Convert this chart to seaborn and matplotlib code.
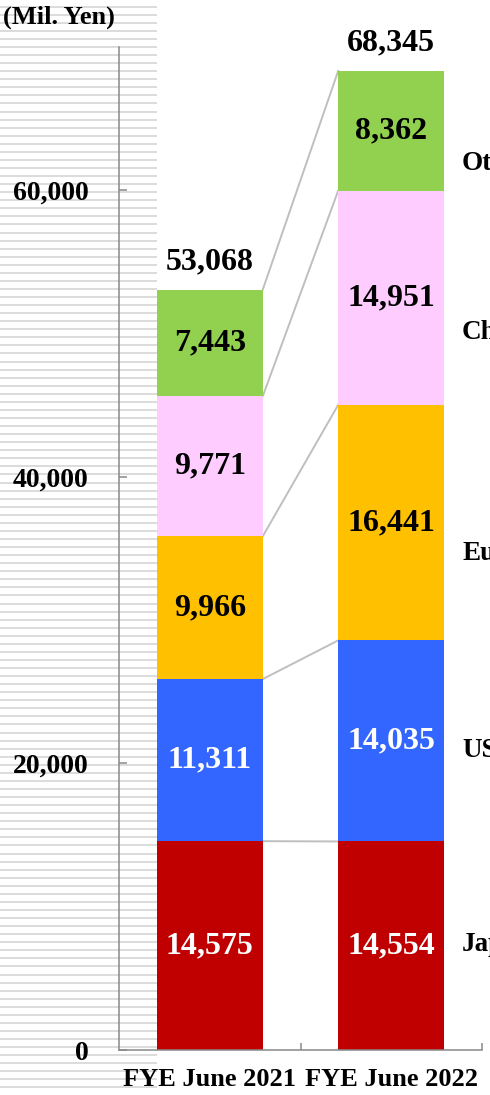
import numpy as np
import pandas as pd
import matplotlib
matplotlib.use("Agg")
import matplotlib.pyplot as plt
import seaborn as sns

# ---- data ----
periods = ["FYE June 2021", "FYE June 2022"]
regions = ["Japan", "USA", "Europe", "China", "Others"]
fy2021 = [14575, 11311, 9966, 9771, 7443]
fy2022 = [14554, 14035, 16441, 14951, 8362]
totals = [53068, 68345]
region_labels = ["Japan", "USA", "Europe", "China", "Others"]
region_label_y = [7330, 20935, 34680, 50100, 61900]
yticks = [0, 20000, 40000, 60000]
unit_label = "(Mil. Yen)"

colors = ["#C00000", "#3366FF", "#FFC000", "#FFCCFF", "#92D050"]
text_colors = ["white", "white", "black", "black", "black"]

sns.set_theme(style="white")
plt.rcParams["font.family"] = ["Liberation Serif", "DejaVu Serif"]
plt.rcParams["font.weight"] = "bold"
plt.rcParams["text.color"] = "black"
plt.rcParams["xtick.labelcolor"] = "black"
plt.rcParams["ytick.labelcolor"] = "black"

W, H = 490, 1095
fig = plt.figure(figsize=(W / 100, H / 100), dpi=100, facecolor="white")

# background stripes (decoration at left)
bg = fig.add_axes([0, 0, 157 / W, 1], zorder=-5)
bg.set_xlim(0, 1)
bg.set_ylim(H, 0)
bg.axis("off")
for yy in np.arange(6.7, H, 8.065):
    bg.axhline(yy, color="#D9D9D9", lw=1.3)

ax = fig.add_axes([119 / W, 45 / H, (482 - 119) / W, (1050 - 47) / H])
ax.patch.set_alpha(0)

df = pd.DataFrame({
    "period": np.repeat(periods, len(regions)),
    "region": regions * 2,
    "value": fy2021 + fy2022,
})
df["cum"] = df.groupby("period")["value"].cumsum()

bw = 0.584
for i in range(len(regions) - 1, -1, -1):
    sub = df[df["region"] == regions[i]]
    sns.barplot(data=sub, x="period", y="cum", order=periods, color=colors[i],
                saturation=1, width=bw, ax=ax, linewidth=0, zorder=2)

# connectors
cum1 = np.cumsum(fy2021)
cum2 = np.cumsum(fy2022)
for a, b in zip(cum1, cum2):
    ax.plot([0 + bw / 2, 1 - bw / 2], [a, b], color="#BFBFBF", lw=1.4, zorder=1)

# value labels
for xi, vals in enumerate([fy2021, fy2022]):
    c = np.cumsum(vals)
    for i, v in enumerate(vals):
        ax.text(xi, c[i] - v / 2, f"{v:,}", ha="center", va="center",
                fontsize=23, fontweight="bold", color=text_colors[i], zorder=5)
    ax.text(xi, c[-1] + 950, f"{totals[xi]:,}", ha="center", va="bottom",
            fontsize=23, fontweight="bold", color="black", zorder=5)

# right-side region labels (cut off at figure edge, as in reference)
for lab, yy in zip(region_labels, region_label_y):
    ax.text(1.39, yy, lab, ha="left", va="center", fontsize=19.5,
            fontweight="bold", color="black", clip_on=False)

ax.set_xlim(-0.5, 1.5)
ax.set_ylim(0, 70000)
ax.set_yticks(yticks)
ax.set_yticklabels([f"{t:,}" for t in yticks], fontsize=20, fontweight="bold", color="black")
ax.set_xticks([0, 1])
ax.set_xticklabels(periods, fontsize=19, fontweight="bold", color="black")
ax.set_xticks([0.5, 1.5], minor=True)
ax.tick_params(axis="x", which="major", length=0, pad=13)
ax.tick_params(axis="x", which="minor", direction="in", length=5, color="#898989", width=1.1, bottom=True)
ax.tick_params(axis="y", which="major", direction="in", length=5.5, color="#898989", width=1.1, pad=22, left=True)
ax.set_xlabel("")
ax.set_ylabel("")
for s in ["top", "right"]:
    ax.spines[s].set_visible(False)
for s in ["left", "bottom"]:
    ax.spines[s].set_color("#898989")
    ax.spines[s].set_linewidth(1.1)

fig.text(3 / W, 1 - 17 / H, unit_label, ha="left", va="center", fontsize=19,
         fontweight="bold", color="black")

fig.savefig("out.png", dpi=100, facecolor="white")
